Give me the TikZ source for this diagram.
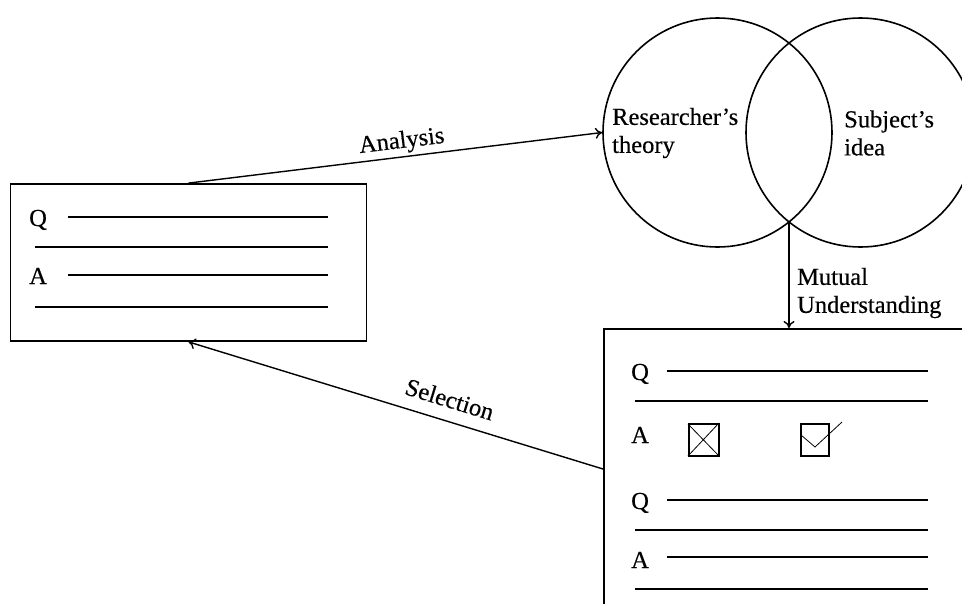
\documentclass[tikz,border=0pt]{standalone}
\usepackage{fontspec}
\setmainfont{Liberation Serif}[FakeBold=0.4]
\usetikzlibrary{arrows.meta}
\begin{document}
\begin{tikzpicture}[x=1pt,y=-1pt,
  lbl/.style={font=\fontsize{24.5}{28}\selectfont, inner sep=0pt},
  frame/.style={draw, line width=1.8pt, inner sep=0pt},
  ring/.style={draw, circle, line width=1.6pt, inner sep=0pt, minimum size=229pt},
  arr/.style={-{To[length=7pt,width=11pt]}, line width=1.4pt},
  txtline/.style={line width=1.6pt},
  thinline/.style={line width=0.8pt}]
\useasboundingbox (0,0) rectangle (962,603);
\clip (0,0) rectangle (962,603);
% left box
\node[frame, minimum width=356pt, minimum height=157pt] (qa) at (188.5,262.5) {};
\node[lbl, anchor=base west] (lq) at (29,226) {Q};
\node[lbl, anchor=base west] (la) at (29,284) {A};
\draw[txtline] (68,217) -- (328,217);
\draw[txtline] (35,247) -- (328,247);
\draw[txtline] (68,275) -- (328,275);
\draw[txtline] (35,307) -- (328,307);
% circles
\node[ring] (rc) at (717.5,132.5) {};
\node[ring] (sc) at (860.5,132.5) {};
\node[lbl, anchor=west, align=left] (rt) at (612,133) {Researcher’s\\theory};
\node[lbl, anchor=west, align=left] (si) at (844,133) {Subject’s\\idea};
% right box
\node[frame, minimum width=420pt, minimum height=320pt, anchor=north west] (rb) at (603,328) {};
\node[lbl, anchor=base west] (rq1) at (631,380) {Q};
\node[lbl, anchor=base west] (ra1) at (631,443) {A};
\node[lbl, anchor=base west] (rq2) at (631,509) {Q};
\node[lbl, anchor=base west] (ra2) at (631,568) {A};
\draw[txtline] (667,371) -- (928,371);
\draw[txtline] (635,401) -- (928,401);
\draw[txtline] (667,500) -- (928,500);
\draw[txtline] (635,530) -- (928,530);
\draw[txtline] (667,557) -- (928,557);
\draw[txtline] (635,589) -- (928,589);
% check boxes
\draw[txtline] (689,424) rectangle (719,456);
\draw[thinline] (688,424) -- (719,456) (688,456) -- (719,423);
\draw[txtline] (801,424) rectangle (829,456);
\draw[thinline] (801,435) -- (815,447) -- (842,422);
% connectors
\draw[arr] (qa.north) -- node[lbl, sloped, above=3pt, pos=0.52] (lan) {Analysis} (rc.west);
\coordinate (mu) at (789,222);
\draw[arr] (mu) -- (mu |- rb.north);
\node[lbl, anchor=west, align=left] (ml) at (797,293) {Mutual\\Understanding};
\coordinate (sel) at (603,469);
\draw[arr] (sel) -- node[lbl, sloped, above=12.5pt, pos=0.385] (lsel) {Selection} (qa.south);
\end{tikzpicture}
\end{document}
